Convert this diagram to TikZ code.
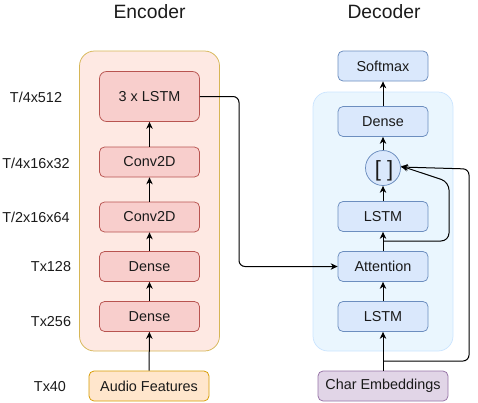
\documentclass[tikz,border=0pt]{standalone}
\usepackage{fontspec}
\setmainfont{Liberation Sans}
\usetikzlibrary{arrows.meta}
\definecolor{encfill}{HTML}{FEE9E3}
\definecolor{encdraw}{HTML}{D6B656}
\definecolor{decfill}{HTML}{EAF6FE}
\definecolor{decdraw}{HTML}{CCE5FF}
\definecolor{redfill}{HTML}{F8CECC}
\definecolor{reddraw}{HTML}{B85450}
\definecolor{bluefill}{HTML}{DAE8FC}
\definecolor{bluedraw}{HTML}{6C8EBF}
\definecolor{orfill}{HTML}{FFE6CC}
\definecolor{ordraw}{HTML}{D79B00}
\definecolor{pufill}{HTML}{E1D5E7}
\definecolor{pudraw}{HTML}{9673A6}
\definecolor{txt}{HTML}{1A1A1A}
\begin{document}
\begin{tikzpicture}[x=1pt,y=-1pt,
  font=\fontsize{14.4}{16}\selectfont, text=txt,
  container/.style={rectangle, rounded corners=15pt, line width=0.75pt, inner sep=0pt},
  box/.style={rectangle, rounded corners=5pt, line width=0.75pt, inner sep=0pt, minimum height=30pt},
  encbox/.style={box, fill=redfill, draw=reddraw, minimum width=100pt},
  decbox/.style={box, fill=bluefill, draw=bluedraw, minimum width=90pt},
  title/.style={font=\fontsize{19.3}{21}\selectfont},
  dim/.style={},
  arr/.style={line width=1pt, -{Stealth[length=7pt,width=6.5pt]}},
]
\useasboundingbox (0,0) rectangle (478,402);

% containers
\node[container, fill=encfill, draw=encdraw, minimum width=140pt, minimum height=300pt] (enc) at (149.5,201) {};
\node[container, fill=decfill, draw=decdraw, minimum width=140pt, minimum height=259pt] (dec) at (383,221.5) {};

% titles
\node[title] (tenc) at (149.5,12) {Encoder};
\node[title] (tdec) at (384,12) {Decoder};

% encoder
\node[encbox, minimum height=50pt, rounded corners=7pt] (lstm3) at (149.5,96.5) {3 x LSTM};
\node[encbox] (conv1) at (149.5,162) {Conv2D};
\node[encbox] (conv2) at (149.5,217) {Conv2D};
\node[encbox] (dense1) at (149.5,266.5) {Dense};
\node[encbox] (dense2) at (149.5,316.5) {Dense};
\node[box, fill=orfill, draw=ordraw, minimum width=120pt] (audio) at (149,386) {Audio Features};

% dimension labels
\node[dim] (d1) at (36,97) {T/4x512};
\node[dim] (d2) at (36,163) {T/4x16x32};
\node[dim] (d3) at (36,217) {T/2x16x64};
\node[dim] (d4) at (51,267) {Tx128};
\node[dim] (d5) at (51,322) {Tx256};
\node[dim] (d6) at (50,387) {Tx40};

% decoder
\node[decbox] (soft) at (383,66) {Softmax};
\node[decbox] (ddense) at (383,121.5) {Dense};
\node[circle, fill=bluefill, draw=bluedraw, line width=0.75pt, minimum size=35pt, inner sep=0pt] (cat) at (383,168) {};
\node[font=\fontsize{22}{24}\selectfont, inner sep=0pt] (br) at (384,171) {[ ]};
\node[decbox] (dlstm2) at (383,216.5) {LSTM};
\node[decbox] (att) at (383,266.5) {Attention};
\node[decbox] (dlstm1) at (383,316.5) {LSTM};
\node[box, fill=pufill, draw=pudraw, minimum width=130pt] (chars) at (383,386) {Char Embeddings};

% encoder arrows
\draw[arr] (audio) -- (dense2);
\draw[arr] (dense2) -- (dense1);
\draw[arr] (dense1) -- (conv2);
\draw[arr] (conv2) -- (conv1);
\draw[arr] (conv1) -- (lstm3);

% encoder to attention
\coordinate (k1) at (239,266.5);
\draw[arr, rounded corners=6pt] (lstm3.east) -| (k1) -- (att.west);

% decoder arrows
\draw[arr] (chars) -- (dlstm1);
\draw[arr] (dlstm1) -- (att);
\draw[arr] (att) -- (dlstm2);
\draw[arr] (dlstm2) -- (cat);
\draw[arr] (cat) -- (ddense);
\draw[arr] (ddense) -- (soft);

% skip connections
\coordinate (b1) at (383,361);
\coordinate (b2) at (469,169);
\draw[arr, rounded corners=6pt] (b1) -| (b2) -- ([yshift=1pt]cat.east);
\coordinate (a1) at (383,241);
\coordinate (a2) at (449,241);
\coordinate (a3) at (449,182);
\draw[arr, rounded corners=8pt] (a1) -- (a2) -- (a3) -- ([yshift=2pt]cat.east);
\end{tikzpicture}
\end{document}
